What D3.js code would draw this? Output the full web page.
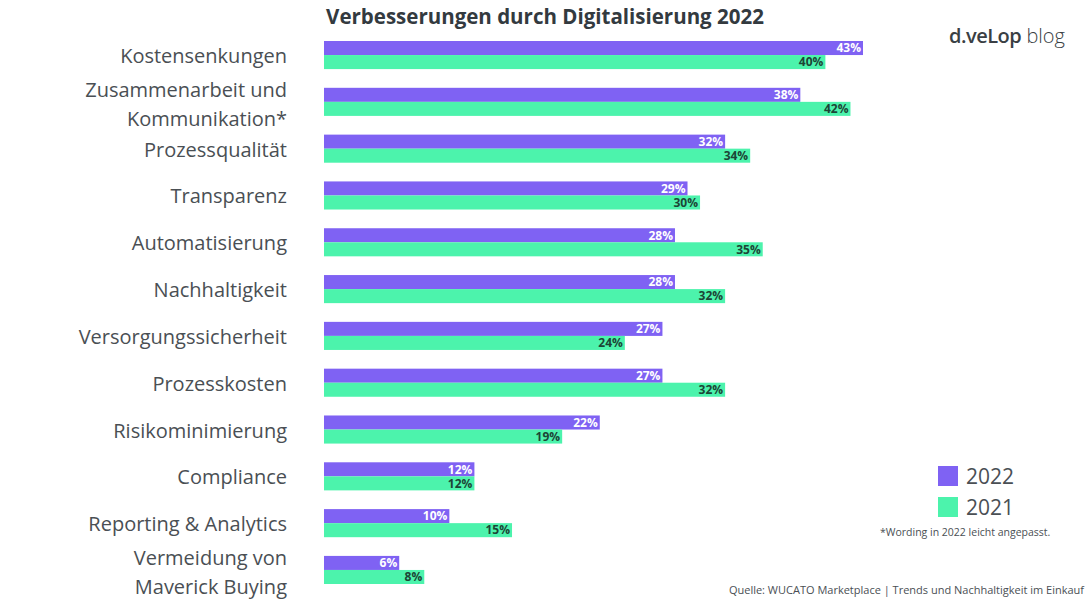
<!DOCTYPE html>
<html>
<head>
<meta charset="utf-8">
<script src="https://cdn.jsdelivr.net/npm/d3@7"></script>
<style>
  html, body { margin: 0; padding: 0; background: #ffffff; }
  svg { display: block; }
</style>
</head>
<body>
<svg id="chart" width="1090" height="600"></svg>
<script>
// ---- data ----
const categories = [
  ["Kostensenkungen"],
  ["Zusammenarbeit und", "Kommunikation*"],
  ["Prozessqualität"],
  ["Transparenz"],
  ["Automatisierung"],
  ["Nachhaltigkeit"],
  ["Versorgungssicherheit"],
  ["Prozesskosten"],
  ["Risikominimierung"],
  ["Compliance"],
  ["Reporting & Analytics"],
  ["Vermeidung von", "Maverick Buying"]
];
const values2022 = [43, 38, 32, 29, 28, 28, 27, 27, 22, 12, 10, 6];
const values2021 = [40, 42, 34, 30, 35, 32, 24, 32, 19, 12, 15, 8];
const seriesNames = ["2022", "2021"];
const title = "Verbesserungen durch Digitalisierung 2022";
const footnote = "*Wording in 2022 leicht angepasst.";
const source = "Quelle: WUCATO Marketplace | Trends und Nachhaltigkeit im Einkauf";

// ---- styles ----
const colors = { "2022": "#7f62f3", "2021": "#4cf3ac" };
const labelColors = { "2022": "#ffffff", "2021": "#1c4536" };
const fontMain = "'Open Sans', 'Noto Sans', sans-serif";

const svg = d3.select("#chart");

const x = d3.scaleLinear().domain([0, 43]).range([324, 863]);
const y = d3.scaleBand().domain(d3.range(categories.length)).range([41, 584]).paddingInner(0.4).paddingOuter(0);
const sub = d3.scaleBand().domain(seriesNames).range([0, y.bandwidth()]);

// title
svg.append("text")
  .attr("x", 545).attr("y", 24)
  .attr("text-anchor", "middle")
  .attr("font-family", fontMain)
  .attr("font-weight", 700)
  .attr("font-size", 20.5)
  .attr("fill", "#333a3f")
  .text(title);

// logo
const logo = svg.append("text")
  .attr("x", 1065).attr("y", 43)
  .attr("text-anchor", "end")
  .attr("font-family", fontMain)
  .attr("font-size", 20)
  .attr("fill", "#3a3f44");
logo.append("tspan").attr("font-weight", 600).attr("letter-spacing", -0.5).text("d.veLop");
logo.append("tspan").attr("font-weight", 300).text(" blog");

// groups
const g = svg.append("g");
const rows = g.selectAll("g.row").data(categories.map((c, i) => ({ c, i })))
  .join("g").attr("class", "row")
  .attr("transform", d => `translate(0,${y(d.i)})`);

seriesNames.forEach((s, si) => {
  const vals = si === 0 ? values2022 : values2021;
  rows.append("rect")
    .attr("x", x(0))
    .attr("y", sub(s))
    .attr("width", d => x(vals[d.i]) - x(0))
    .attr("height", sub.bandwidth())
    .attr("fill", colors[s]);
  rows.append("text")
    .attr("x", d => x(vals[d.i]) - 2)
    .attr("y", sub(s) + sub.bandwidth() / 2)
    .attr("dy", "0.36em")
    .attr("text-anchor", "end")
    .attr("font-family", fontMain)
    .attr("font-weight", 700)
    .attr("font-size", 12)
    .attr("fill", labelColors[s])
    .text(d => vals[d.i] + "%");
});

// category labels
rows.append("text")
  .attr("text-anchor", "end")
  .attr("font-family", fontMain)
  .attr("font-weight", 400)
  .attr("font-size", 20)
  .attr("fill", "#4a4f54")
  .each(function(d) {
    const t = d3.select(this);
    const n = d.c.length;
    const mid = y.bandwidth() / 2 + 1;
    d.c.forEach((line, k) => {
      t.append("tspan")
        .attr("x", 287)
        .attr("y", mid + (k - (n - 1) / 2) * 29 + (n > 1 ? 1.5 : 0))
        .attr("dy", "0.35em")
        .text(line);
    });
  });

// legend
const legend = svg.append("g");
seriesNames.forEach((s, i) => {
  legend.append("rect")
    .attr("x", 938).attr("y", 466 + i * 31)
    .attr("width", 20).attr("height", 20)
    .attr("fill", colors[s]);
  legend.append("text")
    .attr("x", 966).attr("y", 476 + i * 31)
    .attr("dy", "0.36em")
    .attr("font-family", fontMain)
    .attr("font-size", 21)
    .attr("fill", "#4a4f54")
    .text(s);
});

svg.append("text")
  .attr("x", 880).attr("y", 536)
  .attr("font-family", fontMain)
  .attr("font-size", 10.5)
  .attr("fill", "#4a4f54")
  .text(footnote);

svg.append("text")
  .attr("x", 1084).attr("y", 594)
  .attr("text-anchor", "end")
  .attr("font-family", fontMain)
  .attr("font-size", 11)
  .attr("fill", "#4a4f54")
  .text(source);
</script>
</body>
</html>
